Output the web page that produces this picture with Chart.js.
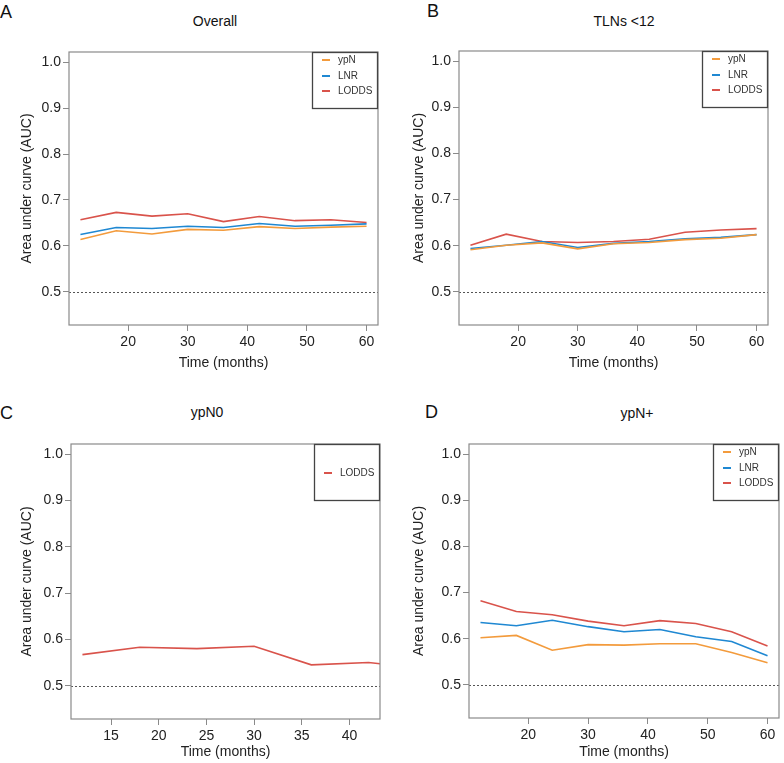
<!DOCTYPE html>
<html lang="en">
<head>
    <meta charset="UTF-8">
    <title>Time-dependent AUC</title>
    <script src="https://cdn.jsdelivr.net/npm/chart.js@4.4.0/dist/chart.umd.min.js"></script>
    <style>
        body {
            margin: 0;
            background: #fff;
            font-family: "Liberation Sans", Arial, sans-serif;
        }
        #wrap {
            position: relative;
            width: 784px;
            height: 763px;
            overflow: hidden;
        }
        .panel {
            position: absolute;
        }
        .letter {
            position: absolute;
            font-size: 18px;
            line-height: 1;
            color: #111;
        }
        .title {
            position: absolute;
            font-size: 14px;
            line-height: 1;
            color: #111;
            transform: translateX(-50%);
            white-space: nowrap;
        }
    </style>
</head>
<body>
<div id="wrap">
    <div class="letter" style="left:0px; top:3px;">A</div>
    <div class="letter" style="left:427px; top:2px;">B</div>
    <div class="letter" style="left:0px; top:404px;">C</div>
    <div class="letter" style="left:425px; top:403px;">D</div>

    <div class="title" style="left:215px; top:14px;">Overall</div>
    <div class="title" style="left:624px; top:14px;">TLNs &lt;12</div>
    <div class="title" style="left:207px; top:405px;">ypN0</div>
    <div class="title" style="left:637px; top:406px;">ypN+</div>

    <div class="panel" style="left:0px; top:0px;"><canvas id="chartA" width="392" height="381"></canvas></div>
    <div class="panel" style="left:392px; top:0px;"><canvas id="chartB" width="392" height="381"></canvas></div>
    <div class="panel" style="left:0px; top:381px;"><canvas id="chartC" width="392" height="382"></canvas></div>
    <div class="panel" style="left:392px; top:381px;"><canvas id="chartD" width="392" height="382"></canvas></div>
</div>

<script>
    // time points (months)
    const months = [12, 18, 24, 30, 36, 42, 48, 54, 60];
    const monthsN0 = [12, 18, 24, 30, 36, 42, 48];

    // A - Overall
    const overallYpN   = [0.614, 0.633, 0.626, 0.636, 0.634, 0.642, 0.638, 0.641, 0.643];
    const overallLNR   = [0.625, 0.640, 0.638, 0.643, 0.640, 0.649, 0.643, 0.645, 0.648];
    const overallLODDS = [0.657, 0.673, 0.665, 0.670, 0.653, 0.664, 0.655, 0.657, 0.651];

    // B - TLNs <12
    const tlnYpN   = [0.591, 0.601, 0.606, 0.593, 0.604, 0.607, 0.613, 0.616, 0.624];
    const tlnLNR   = [0.594, 0.601, 0.609, 0.596, 0.605, 0.609, 0.615, 0.618, 0.624];
    const tlnLODDS = [0.601, 0.625, 0.609, 0.607, 0.609, 0.614, 0.629, 0.634, 0.637];

    // C - ypN0 (only LODDS)
    const n0LODDS = [0.567, 0.583, 0.580, 0.585, 0.545, 0.550, 0.536];

    // D - ypN+
    const posYpN   = [0.602, 0.607, 0.575, 0.587, 0.586, 0.589, 0.589, 0.570, 0.548];
    const posLNR   = [0.635, 0.628, 0.640, 0.626, 0.615, 0.620, 0.604, 0.594, 0.563];
    const posLODDS = [0.682, 0.659, 0.652, 0.638, 0.628, 0.639, 0.633, 0.615, 0.584];

    // axis ticks
    const yTicks = [0.5, 0.6, 0.7, 0.8, 0.9, 1.0];
    const xTicks = [20, 30, 40, 50, 60];
    const xTicksN0 = [15, 20, 25, 30, 35, 40];
    const refLevel = 0.5;

    const colors = { ypN: '#F39B3C', LNR: '#1F88D2', LODDS: '#D9534B' };
    const fontFamily = '"Liberation Sans", Arial, sans-serif';

    function series(label, xs, ys) {
        return {
            label: label,
            data: xs.map((x, i) => ({ x: x, y: ys[i] })),
            borderColor: colors[label],
            backgroundColor: colors[label],
            borderWidth: 1.6,
            pointRadius: 0,
            tension: 0,
            fill: false
        };
    }

    // frame, reference line and boxed legend, drawn like base R graphics
    const framePlugin = {
        id: 'frame',
        beforeDatasetsDraw(chart) {
            const { ctx, chartArea: a, scales: { y } } = chart;
            const py = Math.round(y.getPixelForValue(refLevel)) + 0.5;
            ctx.save();
            ctx.strokeStyle = '#555';
            ctx.lineWidth = 1;
            ctx.setLineDash([2, 2]);
            ctx.beginPath();
            ctx.moveTo(a.left, py);
            ctx.lineTo(a.right, py);
            ctx.stroke();
            ctx.restore();
        },
        afterDatasetsDraw(chart) {
            const { ctx, chartArea: a } = chart;
            ctx.save();
            ctx.strokeStyle = '#8a8a8a';
            ctx.lineWidth = 1.2;
            ctx.strokeRect(a.left, a.top, a.right - a.left, a.bottom - a.top);

            // legend box in top-right corner
            const w = 66, h = 57;
            const lx = a.right - w, ly = a.top;
            ctx.fillStyle = '#fff';
            ctx.fillRect(lx, ly, w, h);
            ctx.strokeStyle = '#444';
            ctx.lineWidth = 1.3;
            ctx.strokeRect(lx + 0.5, ly + 0.5, w - 1, h - 1);

            const sets = chart.data.datasets;
            const rows = sets.length === 1 ? [29] : [8, 24, 39];
            ctx.font = '10px ' + fontFamily;
            ctx.textBaseline = 'middle';
            sets.forEach((ds, i) => {
                const cy = ly + rows[i];
                ctx.strokeStyle = ds.borderColor;
                ctx.lineWidth = 2;
                ctx.beginPath();
                ctx.moveTo(lx + 10, cy);
                ctx.lineTo(lx + 18, cy);
                ctx.stroke();
                ctx.fillStyle = '#333';
                ctx.fillText(ds.label, lx + 26, cy + 0.5);
            });
            ctx.restore();
        }
    };

    function makePanel(canvasId, datasets, cfg) {
        const W = 392, H = cfg.h;
        const a = cfg.area;
        return new Chart(document.getElementById(canvasId), {
            type: 'line',
            data: { datasets: datasets },
            options: {
                responsive: false,
                animation: false,
                events: [],
                layout: { padding: { left: 0, top: a.t, right: W - a.r, bottom: 0 } },
                plugins: { legend: { display: false }, tooltip: { enabled: false } },
                scales: {
                    x: {
                        type: 'linear',
                        min: cfg.xMin,
                        max: cfg.xMax,
                        afterBuildTicks: s => { s.ticks = cfg.xTicks.map(v => ({ value: v })); },
                        afterFit: s => { s.height = H - a.b; },
                        border: { display: false },
                        grid: { drawOnChartArea: false, drawTicks: true, tickLength: 6, color: '#8a8a8a' },
                        ticks: { autoSkip: false, maxRotation: 0, padding: 3, color: '#222', font: { family: fontFamily, size: 14 } },
                        title: { display: true, text: 'Time (months)', color: '#222', padding: { top: cfg.titlePad, bottom: cfg.titlePad }, font: { family: fontFamily, size: 14 } }
                    },
                    y: {
                        min: 0.428,
                        max: 1.022,
                        afterBuildTicks: s => { s.ticks = yTicks.map(v => ({ value: v })); },
                        afterFit: s => { s.width = a.l; },
                        border: { display: false },
                        grid: { drawOnChartArea: false, drawTicks: true, tickLength: 6, color: '#8a8a8a' },
                        ticks: {
                            autoSkip: false,
                            padding: 2,
                            color: '#222',
                            font: { family: fontFamily, size: 14 },
                            callback: v => v.toFixed(1)
                        },
                        title: { display: true, text: 'Area under curve (AUC)', color: '#222', padding: { top: 19, bottom: 19 }, font: { family: fontFamily, size: 14 } }
                    }
                }
            },
            plugins: [framePlugin]
        });
    }

    makePanel('chartA', [
        series('ypN', months, overallYpN),
        series('LNR', months, overallLNR),
        series('LODDS', months, overallLODDS)
    ], { h: 381, area: { l: 69, t: 52, r: 378, b: 325 }, xMin: 10.08, xMax: 61.92, xTicks: xTicks, titlePad: 9 });

    makePanel('chartB', [
        series('ypN', months, tlnYpN),
        series('LNR', months, tlnLNR),
        series('LODDS', months, tlnLODDS)
    ], { h: 381, area: { l: 67, t: 51, r: 376, b: 325 }, xMin: 10.08, xMax: 61.92, xTicks: xTicks, titlePad: 9 });

    makePanel('chartC', [
        series('LODDS', monthsN0, n0LODDS)
    ], { h: 382, area: { l: 71, t: 63, r: 380, b: 338 }, xMin: 10.8, xMax: 43.2, xTicks: xTicksN0, titlePad: 2 });

    makePanel('chartD', [
        series('ypN', months, posYpN),
        series('LNR', months, posLNR),
        series('LODDS', months, posLODDS)
    ], { h: 382, area: { l: 77, t: 63, r: 387, b: 337 }, xMin: 10.08, xMax: 61.92, xTicks: xTicks, titlePad: 2 });
</script>
</body>
</html>
